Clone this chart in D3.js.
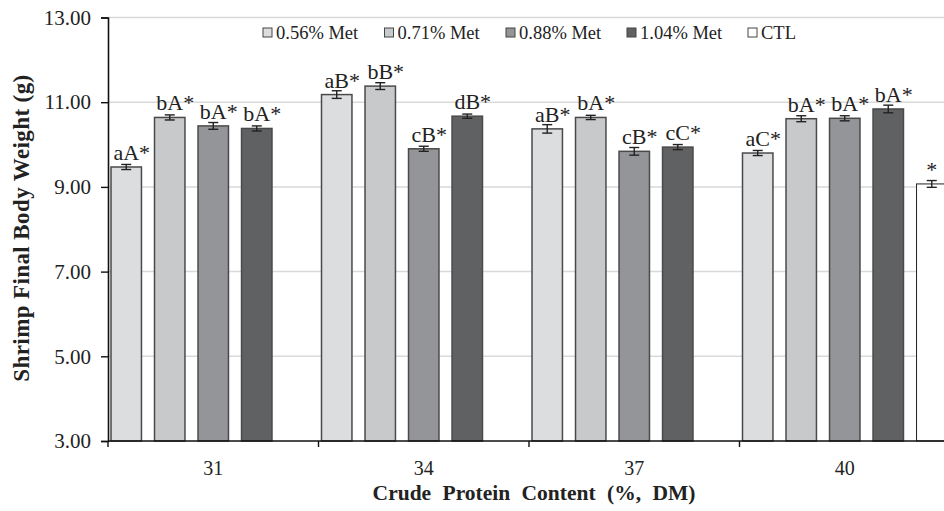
<!DOCTYPE html>
<html>
<head>
<meta charset="utf-8">
<script src="https://cdn.jsdelivr.net/npm/d3@7"></script>
<style>
	body { margin: 0; background: #fff; }
	svg { display: block; font-family: "Liberation Serif", "Times New Roman", serif; }
</style>
</head>
<body>
<svg width="944" height="511"></svg>
<script>
// groups on the x axis
const proteins = ['31', '34', '37', '40']
const series = ['0.56% Met', '0.71% Met', '0.88% Met', '1.04% Met', 'CTL']
const fills = ['#dcdddf', '#c8c9cb', '#949598', '#606163', '#ffffff']

// mean final body weight (g), one row per protein level, one column per series
const means = [
	[9.47, 10.64, 10.44, 10.38, null],
	[11.18, 11.38, 9.90, 10.67, null],
	[10.37, 10.64, 9.84, 9.94, null],
	[9.80, 10.61, 10.62, 10.84, 9.07]
]
// error bar half-widths
const errors = [
	[0.06, 0.06, 0.08, 0.06, null],
	[0.09, 0.08, 0.06, 0.05, null],
	[0.10, 0.05, 0.09, 0.06, null],
	[0.06, 0.07, 0.06, 0.09, 0.08]
]
// significance letters above each bar
const letters = [
	['aA', 'bA', 'bA', 'bA', null],
	['aB', 'bB', 'cB', 'dB', null],
	['aB', 'bA', 'cB', 'cC', null],
	['aC', 'bA', 'bA', 'bA', '']
]
const yTicks = [3, 5, 7, 9, 11, 13]

const margin = { left: 108, top: 17.5, right: 950, bottom: 441 }

const svg = d3.select('svg')

const x0 = d3.scaleBand().domain(proteins).range([margin.left, margin.right])
const x1 = d3.scaleBand().domain(series).range([3, 207.5]).paddingInner(0.3)
const y = d3.scaleLinear().domain([3, 13]).range([margin.bottom, margin.top])

// grid lines
svg.append('g')
	.selectAll('line')
	.data(yTicks.slice(1))
	.enter().append('line')
		.attr('x1', margin.left)
		.attr('x2', 944)
		.attr('y1', d => y(d))
		.attr('y2', d => y(d))
		.attr('stroke', '#d9d9d9')
		.attr('stroke-width', 1.5)

// flatten data for bars
const bars = []
proteins.forEach((p, gi) => {
	series.forEach((s, si) => {
		if (means[gi][si] !== null) {
			bars.push({ p, s, si, v: means[gi][si], e: errors[gi][si], lab: letters[gi][si] })
		}
	})
})

svg.append('g')
	.selectAll('rect')
	.data(bars)
	.enter().append('rect')
		.attr('x', d => x0(d.p) + x1(d.s))
		.attr('y', d => y(d.v))
		.attr('width', x1.bandwidth())
		.attr('height', d => y(3) - y(d.v))
		.attr('fill', d => fills[d.si])
		.attr('stroke', d => d.si === 4 ? '#222' : '#4a4a4a')
		.attr('stroke-width', d => d.si === 4 ? 1 : 1.5)

// error bars
const eb = svg.append('g').attr('stroke', '#222').attr('stroke-width', 1.4)
bars.forEach(d => {
	const cx = x0(d.p) + x1(d.s) + x1.bandwidth() / 2
	eb.append('line').attr('x1', cx).attr('x2', cx).attr('y1', y(d.v + d.e)).attr('y2', y(d.v - d.e))
	eb.append('line').attr('x1', cx - 5).attr('x2', cx + 5).attr('y1', y(d.v + d.e)).attr('y2', y(d.v + d.e))
	eb.append('line').attr('x1', cx - 5).attr('x2', cx + 5).attr('y1', y(d.v - d.e)).attr('y2', y(d.v - d.e))
})

// data labels: letters centred on the bar, asterisk appended after
const lg = svg.append('g').attr('font-size', 22).attr('fill', '#222')
bars.forEach(d => {
	const cx = x0(d.p) + x1(d.s) + x1.bandwidth() / 2
	const by = y(d.v) - 7
	const t = lg.append('text').attr('x', cx).attr('y', by).attr('text-anchor', 'middle').text(d.lab)
	const w = d.lab ? t.node().getComputedTextLength() : 0
	lg.append('text')
		.attr('x', d.lab ? cx + w / 2 : cx)
		.attr('y', by)
		.attr('text-anchor', d.lab ? 'start' : 'middle')
		.text('*')
})

// y axis
const yAxis = svg.append('g')
	.attr('transform', `translate(${margin.left},0)`)
	.call(d3.axisLeft(y).tickValues(yTicks).tickFormat(d3.format('.2f')).tickSize(7).tickPadding(10))
yAxis.select('.domain').attr('stroke', '#111').attr('stroke-width', 1.6)
yAxis.selectAll('.tick line').attr('stroke', '#111').attr('stroke-width', 1.4)
yAxis.selectAll('.tick text')
	.attr('font-family', '"Liberation Serif", serif')
	.attr('font-size', 21)
	.attr('fill', '#222')

// x axis
svg.append('line')
	.attr('x1', margin.left).attr('x2', 944)
	.attr('y1', y(3)).attr('y2', y(3))
	.attr('stroke', '#111').attr('stroke-width', 1.6)
svg.append('g')
	.selectAll('line')
	.data(proteins)
	.enter().append('line')
		.attr('x1', d => x0(d)).attr('x2', d => x0(d))
		.attr('y1', y(3)).attr('y2', y(3) + 6)
		.attr('stroke', '#111').attr('stroke-width', 1.4)
svg.append('g')
	.selectAll('text')
	.data(proteins)
	.enter().append('text')
		.attr('x', d => x0(d) + x0.bandwidth() / 2)
		.attr('y', 475)
		.attr('text-anchor', 'middle')
		.attr('font-size', 20)
		.attr('fill', '#222')
		.text(d => d)

// axis titles
svg.append('text')
	.attr('x', 534).attr('y', 500)
	.attr('text-anchor', 'middle')
	.attr('font-size', 21.5).attr('font-weight', 'bold')
	.attr('word-spacing', 6)
	.attr('fill', '#222')
	.text('Crude Protein Content (%, DM)')
svg.append('text')
	.attr('transform', 'translate(29,228) rotate(-90)')
	.attr('text-anchor', 'middle')
	.attr('font-size', 23).attr('font-weight', 'bold')
	.attr('letter-spacing', 0.4)
	.attr('fill', '#222')
	.text('Shrimp Final Body Weight (g)')

// legend
const legX = [263, 384.5, 506, 627, 748]
const leg = svg.append('g')
	.selectAll('g')
	.data(series)
	.enter().append('g')
		.attr('transform', (d, i) => `translate(${legX[i]},28)`)
leg.append('rect')
	.attr('width', 9).attr('height', 9)
	.attr('fill', (d, i) => fills[i])
	.attr('stroke', '#444').attr('stroke-width', 1)
leg.append('text')
	.attr('x', 13).attr('y', 11)
	.attr('font-size', 18.5)
	.attr('fill', '#222')
	.text(d => d)
</script>
</body>
</html>
